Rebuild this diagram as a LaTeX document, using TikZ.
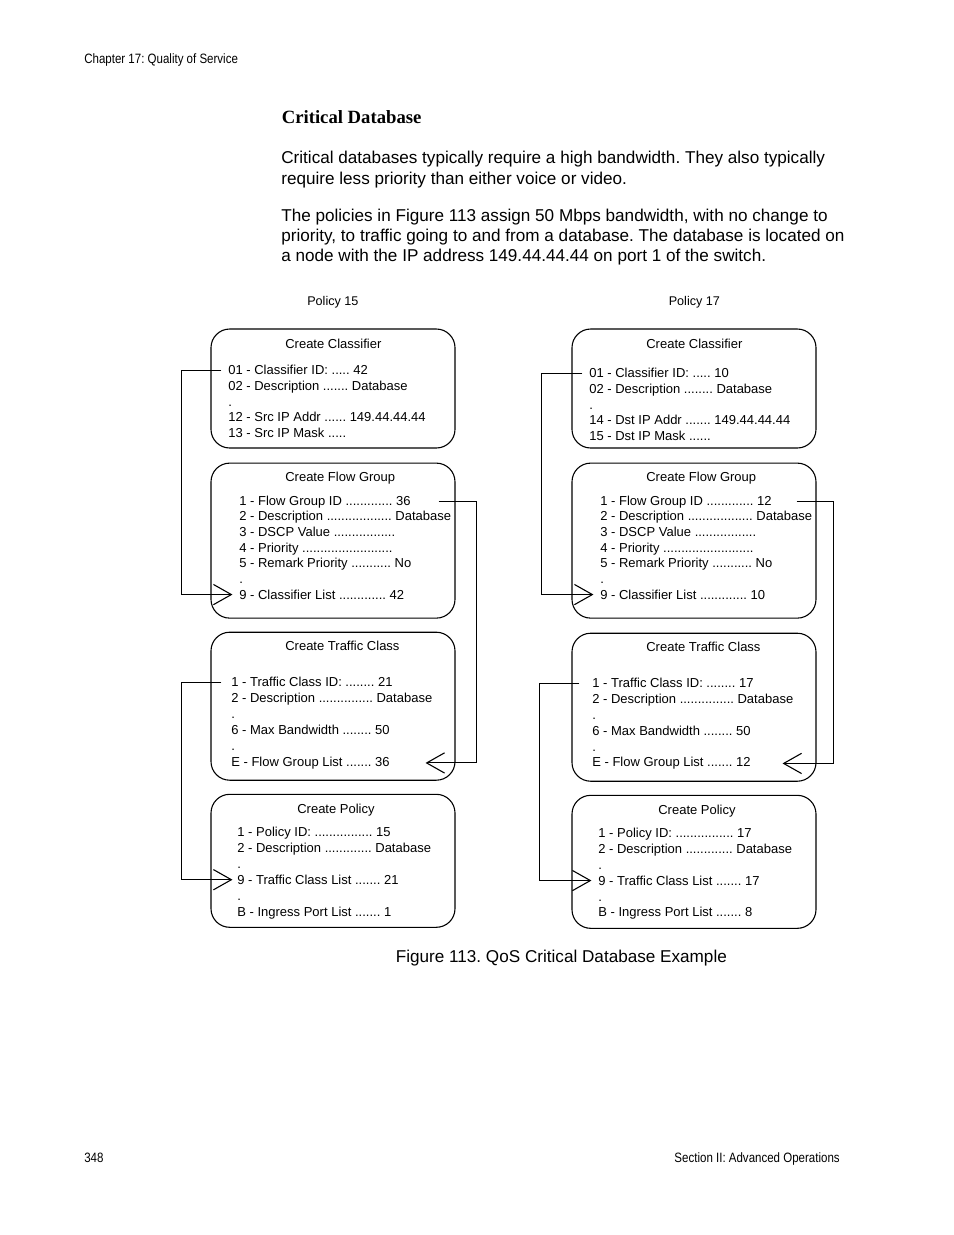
\documentclass[tikz,border=0pt]{standalone}
\usepackage{fontspec}
\setmainfont{Liberation Sans}
\newfontfamily\headingfont{Liberation Serif}
\newfontfamily\narrowfont[FakeStretch=0.85]{Liberation Sans}
\usetikzlibrary{arrows.meta,calc,positioning}
\frenchspacing

\def\pxu{0.642pt}
\tikzstyle{panel} = [draw, rounded corners=12pt, line width=0.7pt, minimum width=244*\pxu, inner sep=0pt]
\tikzstyle{field} = [anchor=base west, inner sep=0pt, font=\fontsize{8.35}{10}\selectfont]
\tikzstyle{bodytext} = [anchor=base west, inner sep=0pt, font=\fontsize{11}{13}\selectfont]
\tikzstyle{pagetext} = [anchor=base west, inner sep=0pt, font=\narrowfont\fontsize{8.7}{10}\selectfont]
\tikzstyle{link} = [line width=0.7pt, -{Straight Barb[length=11.5pt,width=13pt]}]

% one text line per field, named <prefix>-0, <prefix>-1, ...
\newcount\fieldno
\newcommand{\fields}[4]{\gdef\fieldname{#1}\gdef\fieldx{#2}\gdef\fieldy{#3}\gdef\fieldstep{#4}\global\fieldno=0 }
\newcommand{\fieldline}[1]{\node[field] (\fieldname-\the\fieldno) at (\fieldx, \fieldy+\fieldstep*\the\fieldno) {#1};\global\advance\fieldno by 1 }

\begin{document}
\begin{tikzpicture}[x=0.642pt, y=-0.642pt]
\path[use as bounding box, fill=white] (0,0) rectangle (954,1235);

% Page header and text
\node[pagetext] (chap) at (84,63.5) {Chapter 17: Quality of Service};
\node[anchor=base west, inner sep=0pt, font=\headingfont\bfseries\fontsize{12}{14}\selectfont] (head) at (281.5,123.3) {Critical Database};
\node[bodytext] (par1) at (281,163.5) {Critical databases typically require a high bandwidth. They also typically};
\node[bodytext] (par2) at (281,184) {require less priority than either voice or video.};
\node[bodytext] (par3) at (281,221.5) {The policies in Figure 113 assign 50 Mbps bandwidth, with no change to};
\node[bodytext] (par4) at (281,241.5) {priority, to traffic going to and from a database. The database is located on};
\node[bodytext] (par5) at (281,261.5) {a node with the IP address 149.44.44.44 on port 1 of the switch.};

% Policy 15
\node[field, font=\fontsize{8.1}{10}\selectfont] (pol15) at (307,305.7) {Policy 15};
\node[panel, minimum height=119*\pxu] (cl15) at (333,388.5) {};
\node[panel, minimum height=155*\pxu, below=9pt of cl15] (fg15) {};
\node[panel, minimum height=148*\pxu, below=8.35pt of fg15] (tc15) {};
\node[panel, minimum height=133*\pxu, below=8.35pt of tc15] (po15) {};
\node[field] (cl15t) at (285,348.3) {Create Classifier};
\node[field] (fg15t) at (285,481.7) {Create Flow Group};
\node[field] (tc15t) at (285,650.7) {Create Traffic Class};
\node[field] (po15t) at (297,813.3) {Create Policy};

\fields{c15}{228}{374.8}{15.6}
\fieldline{01 - Classifier ID: ..... 42}
\fieldline{02 - Description ....... Database}
\fieldline{.}
\fieldline{12 - Src IP Addr ...... 149.44.44.44}
\fieldline{13 - Src IP Mask .....}

\fields{f15}{239}{505}{15.7}
\fieldline{1 - Flow Group ID ............. 36}
\fieldline{2 - Description .................. Database}
\fieldline{3 - DSCP Value .................}
\fieldline{4 - Priority .........................}
\fieldline{5 - Remark Priority ........... No}
\fieldline{.}
\fieldline{9 - Classifier List ............. 42}

\fields{t15}{231}{686.8}{15.9}
\fieldline{1 - Traffic Class ID: ........ 21}
\fieldline{2 - Description ............... Database}
\fieldline{.}
\fieldline{6 - Max Bandwidth ........ 50}
\fieldline{.}
\fieldline{E - Flow Group List ....... 36}

\fields{p15}{237}{836.8}{15.85}
\fieldline{1 - Policy ID: ................ 15}
\fieldline{2 - Description ............. Database}
\fieldline{.}
\fieldline{9 - Traffic Class List ....... 21}
\fieldline{.}
\fieldline{B - Ingress Port List ....... 1}

% Policy 17
\node[field, font=\fontsize{8.1}{10}\selectfont] (pol17) at (668.5,305.7) {Policy 17};
\node[panel, minimum height=119*\pxu] (cl17) at (694,388.5) {};
\node[panel, minimum height=155*\pxu, below=9pt of cl17] (fg17) {};
\node[panel, minimum height=148*\pxu, below=9pt of fg17] (tc17) {};
\node[panel, minimum height=133*\pxu, below=8.35pt of tc17] (po17) {};
\node[field] (cl17t) at (646,348.3) {Create Classifier};
\node[field] (fg17t) at (646,481.7) {Create Flow Group};
\node[field] (tc17t) at (646,651.7) {Create Traffic Class};
\node[field] (po17t) at (658,814.3) {Create Policy};

\fields{c17}{589}{377.8}{15.7}
\fieldline{01 - Classifier ID: ..... 10}
\fieldline{02 - Description ........ Database}
\fieldline{.}
\fieldline{14 - Dst IP Addr ....... 149.44.44.44}
\fieldline{15 - Dst IP Mask ......}

\fields{f17}{600}{505}{15.7}
\fieldline{1 - Flow Group ID ............. 12}
\fieldline{2 - Description .................. Database}
\fieldline{3 - DSCP Value .................}
\fieldline{4 - Priority .........................}
\fieldline{5 - Remark Priority ........... No}
\fieldline{.}
\fieldline{9 - Classifier List ............. 10}

\fields{t17}{592}{687.8}{15.8}
\fieldline{1 - Traffic Class ID: ........ 17}
\fieldline{2 - Description ............... Database}
\fieldline{.}
\fieldline{6 - Max Bandwidth ........ 50}
\fieldline{.}
\fieldline{E - Flow Group List ....... 12}

\fields{p17}{598}{837.8}{15.8}
\fieldline{1 - Policy ID: ................ 17}
\fieldline{2 - Description ............. Database}
\fieldline{.}
\fieldline{9 - Traffic Class List ....... 17}
\fieldline{.}
\fieldline{B - Ingress Port List ....... 8}

% Links
\draw[link] ($(cl15.west |- c15-0.west)+(11,0)$) -- ++(-40,0) |- ($(fg15.west |- f15-6.west)+(22,0)$);
\draw[link] ($(fg15.east |- f15-0.west)+(-17,0)$) -- ++(38,0) |- ($(tc15.east |- t15-5.west)+(-30,0)$);
\draw[link] ($(tc15.west |- t15-0.west)+(11,0)$) -- ++(-40,0) |- ($(po15.west |- p15-3.west)+(22,0)$);
\draw[link] ($(cl17.west |- c17-0.west)+(11,0)$) -- ++(-41,0) |- ($(fg17.west |- f17-6.west)+(22,0)$);
\draw[link] ($(fg17.east |- f17-0.west)+(-20,0)$) -- ++(37,0) |- ($(tc17.east |- t17-5.west)+(-34,0)$);
\draw[link] ($(tc17.west |- t17-0.west)+(8,0)$) -- ++(-40,0) |- ($(po17.west |- p17-3.west)+(20,0)$);

% Caption and footer
\node[bodytext] (cap) at (395.5,962) {Figure 113. QoS Critical Database Example};
\node[pagetext] (pageno) at (84,1162) {348};
\node[pagetext, anchor=base east] (sect) at (840,1162) {Section II: Advanced Operations};
\end{tikzpicture}
\end{document}
